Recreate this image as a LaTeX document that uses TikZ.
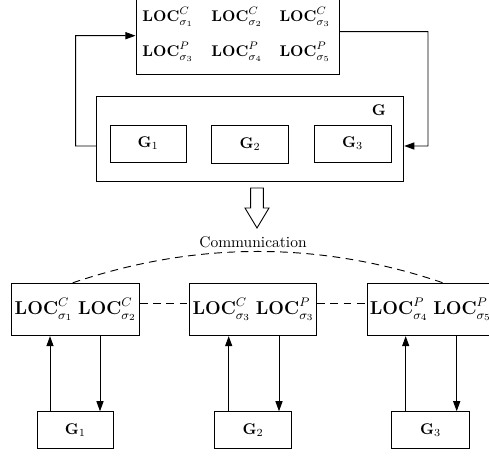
\documentclass[tikz,border=0pt]{standalone}
\usetikzlibrary{arrows.meta,calc}
\def\pxu{0.645pt}
\begin{document}
\begin{tikzpicture}[x=\pxu,y=-\pxu,
  line width=0.6pt,
  box/.style={draw, inner sep=0pt},
  big/.style={font=\fontsize{11.5}{13}\selectfont},
  arr/.style={-{Triangle[length=6.5pt,width=4.6pt]}},
  lbl/.style={inner sep=0pt}]
\useasboundingbox (0,0) rectangle (489,459);
\clip (0,0) rectangle (489,459);
% top box
\node[box, minimum width=203*\pxu, minimum height=76*\pxu] (T) at (237.5,36) {};
\node[lbl] (t1) at (168,17) {$\mathbf{LOC}^{C}_{\sigma_1}$};
\node[lbl] (t2) at (237,17) {$\mathbf{LOC}^{C}_{\sigma_2}$};
\node[lbl] (t3) at (305,17) {$\mathbf{LOC}^{C}_{\sigma_3}$};
\node[lbl] (t4) at (168,52) {$\mathbf{LOC}^{P}_{\sigma_3}$};
\node[lbl] (t5) at (237,52) {$\mathbf{LOC}^{P}_{\sigma_4}$};
\node[lbl] (t6) at (305,52) {$\mathbf{LOC}^{P}_{\sigma_5}$};
% G box
\node[box, minimum width=307*\pxu, minimum height=85*\pxu] (G) at (250.3,139.2) {};
\node[lbl] (Gl) at (379,110) {$\mathbf{G}$};
\node[box, minimum width=76*\pxu, minimum height=37*\pxu] (G1) at (148,143.5) {$\mathbf{G}_1$};
\node[box, minimum width=77*\pxu, minimum height=38*\pxu] (G2) at (250.2,144) {$\mathbf{G}_2$};
\node[box, minimum width=77*\pxu, minimum height=37*\pxu] (G3) at (352.5,143.5) {$\mathbf{G}_3$};
% loops
\coordinate (lc) at (75.7,0);
\coordinate (rc) at (428,0);
\draw[arr] ($(G.west)+(0,6.8)$) -| (lc |- 0,35.7) -- ($(T.west)+(0,-0.3)$);
\draw[arr] ($(T.east)+(0,-4.3)$) -| (rc |- 0,146) -- ($(G.east)+(0,6.8)$);
% hollow arrow
\draw (250.7,188) -- (250.7,208) -- (245,208) -- (257,228) -- (269,208) -- (263.3,208) -- (263.3,188) -- cycle;
% communication
\node[lbl] (com) at (253,242) {Communication};
% bottom boxes
\node[box, big, minimum width=128*\pxu, minimum height=52.4*\pxu] (B1) at (75.5,309.5) {$\mathbf{LOC}^{C}_{\sigma_1}\;\mathbf{LOC}^{C}_{\sigma_2}$};
\node[box, big, minimum width=127*\pxu, minimum height=52.4*\pxu] (B2) at (253.3,309.5) {$\mathbf{LOC}^{C}_{\sigma_3}\;\mathbf{LOC}^{P}_{\sigma_3}$};
\node[box, big, minimum width=127*\pxu, minimum height=52.4*\pxu, anchor=west] (B3) at (366.7,309.5) {$\mathbf{LOC}^{P}_{\sigma_4}\;\mathbf{LOC}^{P}_{\sigma_5}$};
\draw[dashed, dash pattern=on 5pt off 3.5pt] (B1.east |- 0,303) -- (B2.west |- 0,303);
\draw[dashed, dash pattern=on 5pt off 3.5pt] (B2.east |- 0,303) -- (B3.west |- 0,303);
\coordinate (c1) at (72.7,283.3);
\coordinate (c2) at (443,283.3);
\draw[dashed, dash pattern=on 5pt off 3.5pt] (c1 |- B1.north) .. controls (196,241) and (320,241) .. (c2 |- B3.north);
% bottom G boxes
\node[box, minimum width=76*\pxu, minimum height=36.6*\pxu] (H1) at (75.3,430) {$\mathbf{G}_1$};
\node[box, minimum width=77.4*\pxu, minimum height=36.6*\pxu] (H2) at (253,430) {$\mathbf{G}_2$};
\node[box, minimum width=77.6*\pxu, minimum height=36.6*\pxu] (H3) at (430.5,430) {$\mathbf{G}_3$};
% vertical arrows
\foreach \h/\b/\u/\d in {H1/B1/50/100, H2/B2/228.7/279, H3/B3/405.7/456.7}{
  \draw[arr] (\u,0 |- \h.north) -- (\u,0 |- \b.south);
  \draw[arr] (\d,0 |- \b.south) -- (\d,0 |- \h.north);
}
\end{tikzpicture}
\end{document}
